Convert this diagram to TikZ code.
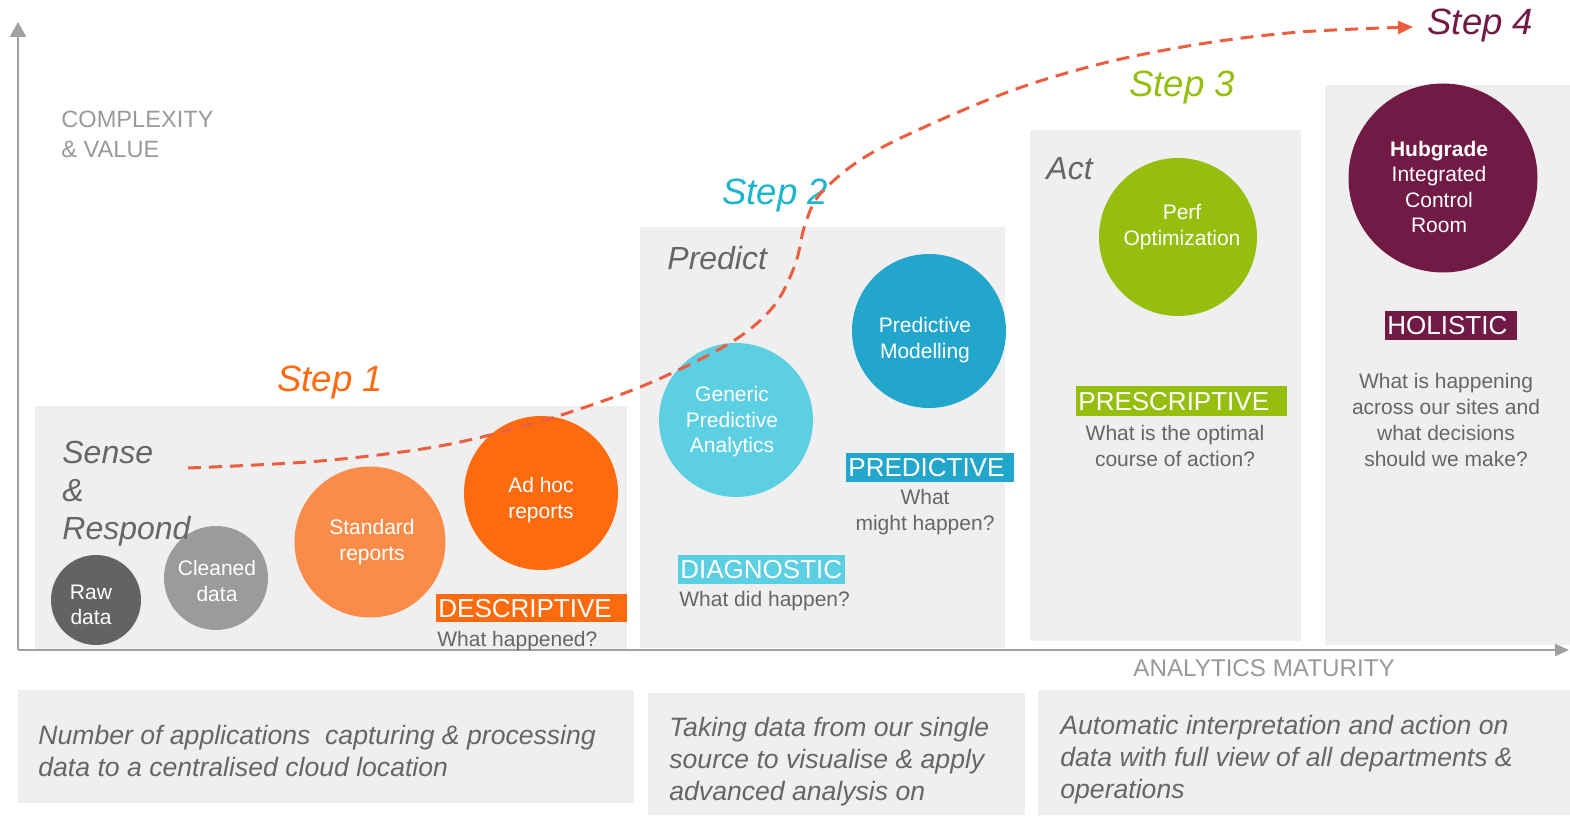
\documentclass[tikz,border=0pt]{standalone}
\usepackage{fontspec}
\setmainfont{Liberation Sans}
\usetikzlibrary{arrows.meta}
\definecolor{panel}{HTML}{EFEFEF}
\definecolor{axisgray}{HTML}{A0A0A0}
\definecolor{darktext}{HTML}{666666}
\definecolor{lighttext}{HTML}{999999}
\definecolor{rawc}{HTML}{636363}
\definecolor{cleanc}{HTML}{9B9B9B}
\definecolor{stdc}{HTML}{F98C48}
\definecolor{adhocc}{HTML}{FE6B0F}
\definecolor{gpac}{HTML}{5DCFE2}
\definecolor{pmc}{HTML}{22A6CC}
\definecolor{perfc}{HTML}{96BE0F}
\definecolor{hubc}{HTML}{721A46}
\definecolor{dashc}{HTML}{EB5E40}
\definecolor{step2c}{HTML}{1DB4CD}
\tikzset{
  panelbox/.style={fill=panel},
  axisline/.style={draw=axisgray, line width=1.3pt},
  bubble/.style={circle, inner sep=0pt},
  bubbletext/.style={text=white, align=center, inner sep=0pt, font=\fontsize{10.5pt}{12.75pt}\selectfont},
  catlabel/.style={anchor=north west, inner xsep=1pt, inner ysep=0pt, text=white, align=left, font=\fontsize{13pt}{15pt}\selectfont},
  question/.style={text=darktext, inner sep=0pt, font=\fontsize{10.5pt}{13pt}\selectfont},
  stagelabel/.style={text=darktext, anchor=west, inner sep=0pt, align=left, font=\fontsize{16pt}{19pt}\selectfont\itshape},
  steplabel/.style={anchor=west, inner sep=0pt, font=\fontsize{18.3pt}{22pt}\selectfont\itshape},
  axislabel/.style={text=lighttext, anchor=west, inner sep=0pt, align=left},
  bottomtext/.style={text=darktext, anchor=west, inner sep=0pt, align=left, font=\fontsize{13.3pt}{16pt}\selectfont\itshape},
  pathline/.style={draw=dashc, line width=1.5pt, dash pattern=on 6.5pt off 4pt, -{Triangle[length=7.5pt,width=6.5pt]}}
}
\begin{document}
\begin{tikzpicture}[x=0.5pt,y=-0.5pt]
\useasboundingbox (0,0) rectangle (1570,817);
% panels
\fill[panelbox] (35,406) rectangle (627,650);
\fill[panelbox] (640,227) rectangle (1005,648);
\fill[panelbox] (1030,130) rectangle (1301,641);
\fill[panelbox] (1325,85) rectangle (1570,645);
\fill[panelbox] (18,690) rectangle (634,803);
\fill[panelbox] (648,693) rectangle (1025,815);
\fill[panelbox] (1038,690) rectangle (1570,815);
% axes
\coordinate (origin) at (18,650);
\coordinate (ytop) at (18,22);
\coordinate (xend) at (1569,650);
\draw[axisline, -{Triangle[length=7.5pt,width=8pt]}] (origin) -- (ytop);
\draw[axisline, -{Triangle[length=7pt,width=6pt]}] (origin) -- (xend);
\node[axislabel, font=\fontsize{11.8pt}{15pt}\selectfont] (cv) at (61,134) {COMPLEXITY\\\& VALUE};
\node[axislabel, font=\fontsize{12.1pt}{15pt}\selectfont] (am) at (1133,668) {ANALYTICS MATURITY};
% bubbles
\node[bubble, fill=rawc, minimum size=45pt] (raw) at (96,600) {};
\node[bubble, fill=cleanc, minimum size=52pt] (clean) at (216,578) {};
\node[bubble, fill=stdc, minimum size=75.5pt] (std) at (370,542) {};
\node[bubble, fill=adhocc, minimum size=77pt] (adhoc) at (541,493) {};
\node[bubble, fill=gpac, minimum size=77pt] (gpa) at (736,420) {};
\node[bubble, fill=pmc, minimum size=77pt] (pm) at (929,331) {};
\node[bubble, fill=perfc, minimum size=79pt] (perf) at (1178,237) {};
\node[bubble, fill=hubc, minimum size=94.5pt] (hub) at (1443,178) {};
\node[bubbletext] (rawt) at (91,605) {Raw\\data};
\node[bubbletext] (cleant) at (217,581) {Cleaned\\data};
\node[bubbletext] (stdt) at (372,542) {Standard\\reports};
\node[bubbletext] (adhoct) at (541,500) {Ad hoc\\reports};
\node[bubbletext] (gpat) at (732,422) {Generic\\Predictive\\Analytics};
\node[bubbletext] (pmt) at (925,340) {Predictive\\Modelling};
\node[bubbletext] (perft) at (1182,227) {Perf\\Optimization};
\node[bubbletext] (hubt) at (1439,187) {\textbf{Hubgrade}\\Integrated\\Control\\Room};
% stage labels
\node[stagelabel] (sense) at (62,494) {Sense\\\&\\Respond};
\node[stagelabel] (predict) at (667,258) {Predict};
\node[stagelabel] (act) at (1046,169) {Act};
% category labels
\node[catlabel, fill=adhocc, text width=93.5pt, minimum height=14pt] (desc) at (436,594) {DESCRIPTIVE};
\node[catlabel, fill=gpac, text width=81.5pt, minimum height=14.5pt] (diag) at (678,555) {DIAGNOSTIC};
\node[catlabel, fill=pmc, text width=82pt, minimum height=14.5pt] (pred) at (846,453) {PREDICTIVE};
\node[catlabel, fill=perfc, text width=103.5pt, minimum height=15pt] (presc) at (1076,386) {PRESCRIPTIVE};
\node[catlabel, fill=hubc, text width=64pt, minimum height=14.5pt] (hol) at (1385,311) {HOLISTIC};
% questions
\node[question, anchor=west] (q1) at (437,641) {What happened?};
\node[question, anchor=west] (q2) at (679,601) {What did happen?};
\node[question, align=center] (q3) at (925,512) {What\\might happen?};
\node[question, align=center] (q4) at (1175,446) {What is the optimal\\course of action?};
\node[question, align=center] (q5) at (1446,420) {What is happening\\across our sites and\\what decisions\\should we make?};
% bottom texts
\node[bottomtext] (b1) at (38,751) {Number of applications~ capturing \& processing\\data to a centralised cloud location};
\node[bottomtext] (b2) at (669,762) {Taking data from our single\\source to visualise \& apply\\advanced analysis on};
\node[bottomtext] (b3) at (1060,760) {Automatic interpretation and action on\\data with full view of all departments \&\\operations};
% steps
\node[steplabel, text=adhocc] (s1) at (277,383) {Step 1};
\node[steplabel, text=step2c] (s2) at (722,196) {Step 2};
\node[steplabel, text=perfc] (s3) at (1129,88) {Step 3};
\node[steplabel, text=hubc] (s4) at (1427,26) {Step 4};
% dashed maturity curve
\coordinate (cstart) at (188,468);
\coordinate (cend) at (1413,27);
\draw[pathline] plot[smooth, tension=0.55] coordinates {(cstart) (320,461) (440,446) (545,420) (645,385) (730,343) (773,307) (795,265) (805,225) (822,192) (877,150) (1000,95) (1100,64) (1200,44) (1300,32) (cend)};
\end{tikzpicture}
\end{document}
